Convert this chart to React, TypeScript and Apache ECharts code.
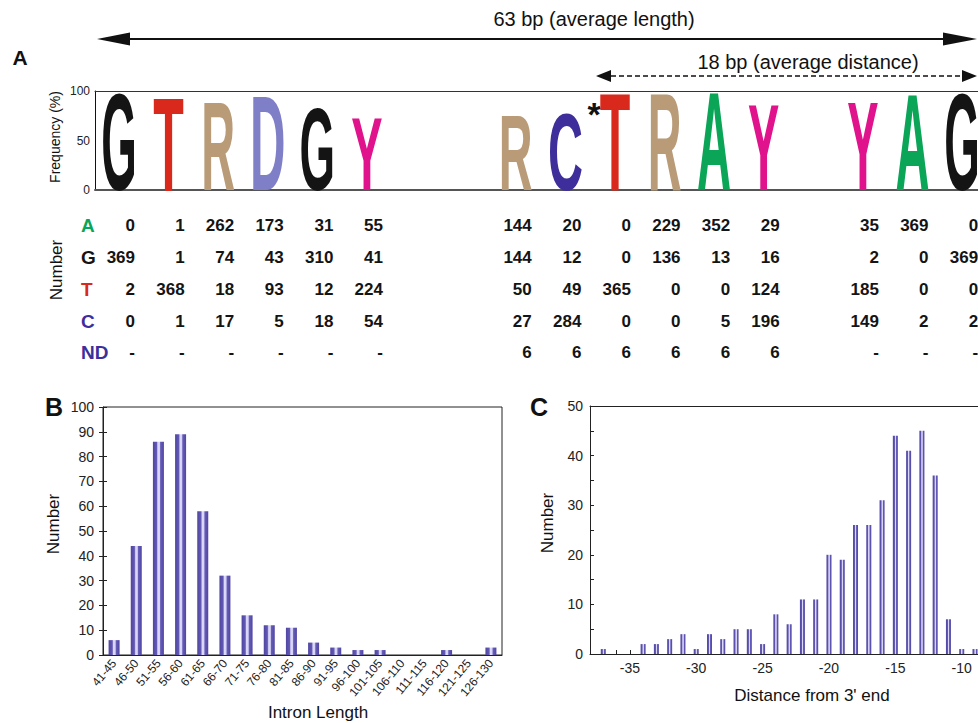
import React, { useEffect, useRef } from 'react';
import * as echarts from 'echarts';

// ---------- Panel A: sequence logo ----------
const logoPositions = [0, 1, 2, 3, 4, 5, 8, 9, 10, 11, 12, 13, 15, 16, 17];
const logoLetters = ['G', 'T', 'R', 'D', 'G', 'Y', 'R', 'C', 'T', 'R', 'A', 'Y', 'Y', 'A', 'G'];
const logoFrequency = [99, 97, 91, 98, 84, 75, 78, 79, 100, 100, 100, 89, 91, 99, 99];

// ---------- Panel A: count table ----------
const countRowLabels = ['A', 'G', 'T', 'C', 'ND'];
const countsA = ['0', '1', '262', '173', '31', '55', '144', '20', '0', '229', '352', '29', '35', '369', '0'];
const countsG = ['369', '1', '74', '43', '310', '41', '144', '12', '0', '136', '13', '16', '2', '0', '369'];
const countsT = ['2', '368', '18', '93', '12', '224', '50', '49', '365', '0', '0', '124', '185', '0', '0'];
const countsC = ['0', '1', '17', '5', '18', '54', '27', '284', '0', '0', '5', '196', '149', '2', '2'];
const countsND = ['-', '-', '-', '-', '-', '-', '6', '6', '6', '6', '6', '6', '-', '-', '-'];

// ---------- Panel B ----------
const intronLengthBins = ['41-45', '46-50', '51-55', '56-60', '61-65', '66-70', '71-75', '76-80', '81-85',
  '86-90', '91-95', '96-100', '101-105', '106-110', '111-115', '116-120', '121-125', '126-130'];
const intronLengthCounts = [6, 44, 86, 89, 58, 32, 16, 12, 11, 5, 3, 2, 2, 0, 0, 2, 0, 3];

// ---------- Panel C ----------
const distancePositions = [-37, -36, -35, -34, -33, -32, -31, -30, -29, -28, -27, -26, -25, -24, -23,
  -22, -21, -20, -19, -18, -17, -16, -15, -14, -13, -12, -11, -10, -9];
const distanceCounts = [1, 0, 0, 2, 2, 3, 4, 1, 4, 3, 5, 5, 2, 8, 6, 11, 11, 20, 19, 26, 26, 31, 44, 41, 45, 36, 7, 1, 1];

const FONT = '"Liberation Sans", Arial, Helvetica, sans-serif';
const NARROW = '"Liberation Sans Narrow", "Liberation Sans", Arial, sans-serif';

const letterColor: Record<string, string> = {
  G: '#141414', T: '#d9291c', R: '#b99b78', D: '#7f7fc8', Y: '#e0138c', C: '#3e2e9c', A: '#0aa557',
};
const rowColor: Record<string, string> = {
  A: '#0aa557', G: '#141414', T: '#d9291c', C: '#3e2e9c', ND: '#3e2e9c',
};
// approximate ink width ratio (em) of bold glyphs and target drawn width in px
const letterInk: Record<string, number> = { G: 0.70, T: 0.58, R: 0.64, D: 0.63, Y: 0.66, C: 0.64, A: 0.72 };
const letterWidth: Record<string, number> = { G: 32, T: 29, R: 30, D: 31, Y: 31, C: 31, A: 34 };

const countRows = [countsA, countsG, countsT, countsC, countsND];

const LOGO_MIN = -0.484;
const LOGO_MAX = 17.32;

function barGradient() {
  return new echarts.graphic.LinearGradient(0, 0, 1, 0, [
    { offset: 0, color: '#4f45a2' },
    { offset: 0.33, color: '#6259b4' },
    { offset: 0.45, color: '#dedaf9' },
    { offset: 0.6, color: '#d6d2f5' },
    { offset: 0.7, color: '#665db8' },
    { offset: 1, color: '#4f45a2' },
  ]);
}

const centerText = { align: 'center', verticalAlign: 'middle', textAlign: 'center', textVerticalAlign: 'middle' };

export default function App() {
  const ref = useRef<HTMLDivElement>(null);

  useEffect(() => {
    if (!ref.current) return;
    const chart = echarts.init(ref.current, null, { renderer: 'svg' });

    const logoData = logoPositions.map((p, i) => [p, logoFrequency[i], i]);
    const tableData: number[][] = [];
    countRows.forEach((row, r) => {
      row.forEach((_, c) => tableData.push([logoPositions[c], r, c]));
    });

    const rich: Record<string, any> = {};
    countRowLabels.forEach((k) => {
      rich[k] = { color: rowColor[k], fontWeight: 'bold', fontSize: 19, fontFamily: FONT };
    });

    const axisText = '#222';

    const option: any = {
      animation: false,
      textStyle: { fontFamily: FONT },
      grid: [
        { left: 95, top: 91, right: 0, height: 99 },
        { left: 95, top: 210, right: 0, height: 158.75 },
        { left: 103, top: 407, width: 399, height: 248, show: true, borderColor: '#222', borderWidth: 1, backgroundColor: 'transparent' },
        { left: 590, top: 406, right: 0, height: 248 },
      ],
      xAxis: [
        {
          gridIndex: 0, type: 'value', min: LOGO_MIN, max: LOGO_MAX,
          axisLine: { show: true, onZero: false, lineStyle: { color: '#555', width: 2 } },
          axisTick: { show: false }, axisLabel: { show: false }, splitLine: { show: false },
        },
        {
          gridIndex: 0, type: 'value', position: 'top', min: LOGO_MIN, max: LOGO_MAX,
          axisLine: { show: true, onZero: false, lineStyle: { color: '#333', width: 1 } },
          axisTick: { show: false }, axisLabel: { show: false }, splitLine: { show: false },
        },
        { gridIndex: 1, type: 'value', min: LOGO_MIN, max: LOGO_MAX, show: false },
        {
          gridIndex: 2, type: 'category', data: intronLengthBins,
          axisLine: { show: true, lineStyle: { color: '#222' } },
          axisTick: { show: false },
          axisLabel: { interval: 0, rotate: 50, fontSize: 12, color: axisText, margin: 6 },
        },
        {
          gridIndex: 3, type: 'value', min: -38, max: -8.8, interval: 1,
          axisLine: { show: true, onZero: false, lineStyle: { color: '#222' } },
          axisTick: { show: true, inside: true, length: 4, lineStyle: { color: '#222' } },
          axisLabel: {
            fontSize: 14, color: axisText, margin: 7, showMinLabel: true, showMaxLabel: false,
            formatter: (v: number) => (Math.round(v) % 5 === 0 ? String(v) : ''),
          },
          splitLine: { show: false },
        },
        {
          gridIndex: 3, type: 'value', position: 'top', min: -38, max: -8.8,
          axisLine: { show: true, onZero: false, lineStyle: { color: '#222' } },
          axisTick: { show: false }, axisLabel: { show: false }, splitLine: { show: false },
        },
      ],
      yAxis: [
        {
          gridIndex: 0, type: 'value', min: 0, max: 100, interval: 50,
          axisLine: { show: true, onZero: false, lineStyle: { color: '#111', width: 1 } },
          axisTick: { show: false },
          axisLabel: { fontSize: 12, color: axisText, margin: 5, fontFamily: NARROW },
          splitLine: { show: false },
        },
        {
          gridIndex: 1, type: 'category', inverse: true, data: countRowLabels,
          axisLine: { show: false }, axisTick: { show: false },
          axisLabel: { align: 'left', margin: 14, formatter: (v: string) => `{${v}|${v}}`, rich },
        },
        {
          gridIndex: 2, type: 'value', min: 0, max: 100, interval: 10, position: 'left',
          axisLine: { show: true, onZero: false, lineStyle: { color: '#222' } },
          axisTick: { show: true, length: 4, lineStyle: { color: '#222' } },
          axisLabel: { fontSize: 14, color: axisText, margin: 9 },
          splitLine: { show: false },
        },
        {
          gridIndex: 2, type: 'value', min: 0, max: 100, interval: 10, position: 'left',
          axisLine: { show: false },
          axisTick: { show: true, inside: true, length: 4, lineStyle: { color: '#222' } },
          axisLabel: { show: false }, splitLine: { show: false },
        },
        {
          gridIndex: 3, type: 'value', min: 0, max: 50, interval: 5,
          axisLine: { show: true, onZero: false, lineStyle: { color: '#222' } },
          axisTick: { show: true, inside: true, length: 4, lineStyle: { color: '#222' } },
          axisLabel: {
            fontSize: 14, color: axisText, margin: 7,
            formatter: (v: number) => (v % 10 === 0 ? String(v) : ''),
          },
          splitLine: { show: false },
        },
      ],
      series: [
        {
          type: 'custom', xAxisIndex: 0, yAxisIndex: 0, data: logoData, clip: false,
          renderItem: (params: any, api: any) => {
            const pos = api.value(0);
            const freq = api.value(1);
            const idx = api.value(2);
            const letter = logoLetters[idx];
            const top = api.coord([pos, freq]);
            const bot = api.coord([pos, 0]);
            const H = bot[1] - top[1];
            const fs = 40;
            const sx = letterWidth[letter] / (fs * letterInk[letter]);
            const sy = H / (fs * 0.716);
            return {
              type: 'text',
              x: bot[0],
              y: bot[1] - 0.3465 * fs * sy,
              scaleX: sx,
              scaleY: sy,
              style: {
                text: letter, x: 0, y: 0,
                font: `bold ${fs}px ${FONT}`,
                fill: letterColor[letter],
                ...centerText,
              },
            };
          },
        },
        {
          type: 'custom', xAxisIndex: 2, yAxisIndex: 1, data: tableData, clip: false,
          renderItem: (params: any, api: any) => {
            const pos = api.value(0);
            const r = api.value(1);
            const c = api.value(2);
            const pt = api.coord([pos, r]);
            return {
              type: 'text',
              x: pt[0] + 16,
              y: pt[1],
              style: {
                text: countRows[r][c], x: 0, y: 0,
                font: `bold 17px ${FONT}`,
                fill: '#141414',
                align: 'right', verticalAlign: 'middle',
                textAlign: 'right', textVerticalAlign: 'middle',
              },
            };
          },
        },
        {
          type: 'bar', xAxisIndex: 3, yAxisIndex: 2, data: intronLengthCounts, barWidth: 11,
          itemStyle: { color: barGradient() },
        },
        {
          type: 'bar', xAxisIndex: 4, yAxisIndex: 4,
          data: distancePositions.map((x, i) => [x, distanceCounts[i]]), barWidth: 5,
          itemStyle: { color: barGradient() },
        },
      ],
      graphic: [
        // top arrows
        { type: 'line', shape: { x1: 125, y1: 39, x2: 946, y2: 39 }, style: { stroke: '#111', lineWidth: 2 } },
        { type: 'polygon', shape: { points: [[97, 39], [130, 32.5], [130, 45.5]] }, style: { fill: '#111' } },
        { type: 'polygon', shape: { points: [[977, 39], [943, 32.5], [943, 45.5]] }, style: { fill: '#111' } },
        { type: 'line', shape: { x1: 611, y1: 76, x2: 962, y2: 76 }, style: { stroke: '#111', lineWidth: 1.5, lineDash: [5, 3] } },
        { type: 'polygon', shape: { points: [[596, 76], [611, 70], [611, 82]] }, style: { fill: '#111' } },
        { type: 'polygon', shape: { points: [[977, 76], [962, 70], [962, 82]] }, style: { fill: '#111' } },
        { type: 'text', x: 594, y: 19, style: { text: '63 bp (average length)', font: `20px ${FONT}`, fill: '#111', ...centerText } },
        { type: 'text', x: 808, y: 62, style: { text: '18 bp (average distance)', font: `20px ${FONT}`, fill: '#111', ...centerText } },
        { type: 'text', x: 594, y: 114, style: { text: '*', font: `bold 34px ${FONT}`, fill: '#111', ...centerText } },
        // panel letters
        { type: 'text', x: 20, y: 57, style: { text: 'A', font: `bold 21px ${FONT}`, fill: '#111', ...centerText } },
        { type: 'text', x: 54, y: 407, style: { text: 'B', font: `bold 25px ${FONT}`, fill: '#111', ...centerText } },
        { type: 'text', x: 539, y: 407, style: { text: 'C', font: `bold 25px ${FONT}`, fill: '#111', ...centerText } },
        // axis titles
        { type: 'text', x: 55, y: 137, rotation: Math.PI / 2, style: { text: 'Frequency (%)', font: `14px ${NARROW}`, fill: '#111', ...centerText } },
        { type: 'text', x: 56, y: 270, rotation: Math.PI / 2, style: { text: 'Number', font: `17px ${FONT}`, fill: '#111', ...centerText } },
        { type: 'text', x: 53, y: 524, rotation: Math.PI / 2, style: { text: 'Number', font: `17px ${FONT}`, fill: '#111', ...centerText } },
        { type: 'text', x: 318, y: 712, style: { text: 'Intron Length', font: `17px ${FONT}`, fill: '#111', ...centerText } },
        { type: 'text', x: 547, y: 523, rotation: Math.PI / 2, style: { text: 'Number', font: `17px ${FONT}`, fill: '#111', ...centerText } },
        { type: 'text', x: 812, y: 695, style: { text: "Distance from 3' end", font: `17px ${FONT}`, fill: '#111', ...centerText } },
      ],
    };

    chart.setOption(option);
    return () => chart.dispose();
  }, []);

  return (
    <div
      ref={ref}
      style={{ position: 'fixed', left: 0, top: 0, width: 978, height: 723, background: '#fff' }}
    />
  );
}
